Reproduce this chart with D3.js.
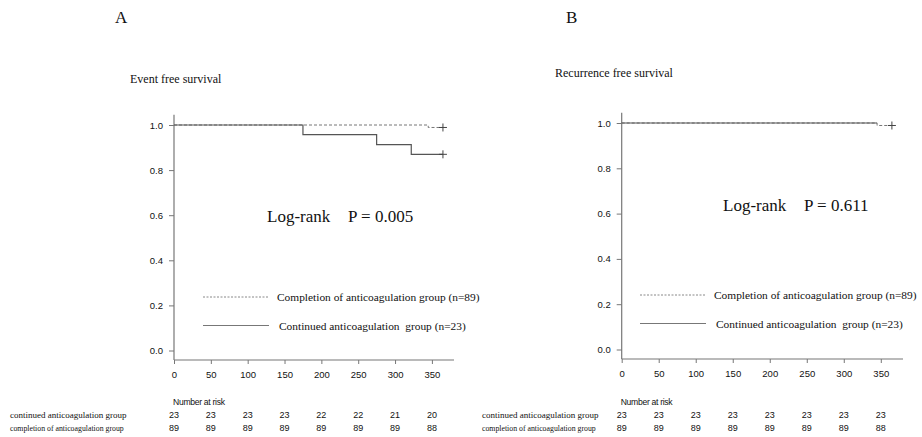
<!DOCTYPE html>
<meta charset="utf-8">
<style>
body { margin: 0; background: #fff; }
svg { display: block; }
text { white-space: pre; }
.serif { font-family: "Liberation Serif", "Times New Roman", serif; fill: #111; }
.sans { font-family: "Liberation Sans", Arial, sans-serif; fill: #111; }
</style>
<svg width="922" height="437"></svg>
<script src="https://d3js.org/d3.v7.min.js"></script>
<script>

// ---- data ----
var xTicks = [0, 50, 100, 150, 200, 250, 300, 350];
var yTicks = [0, 0.2, 0.4, 0.6, 0.8, 1.0];
var riskTimes = [0, 50, 100, 150, 200, 250, 300, 350];

// panel A : event free survival
var aContTimes = [0, 175, 275, 322];
var aContSurv  = [1.0, 0.957, 0.913, 0.870];
var aContEnd = 365;
var aCompTimes = [0, 345];
var aCompSurv  = [1.0, 0.989];
var aCompEnd = 365;
var aRiskCont = [23, 23, 23, 23, 22, 22, 21, 20];
var aRiskComp = [89, 89, 89, 89, 89, 89, 89, 88];

// panel B : recurrence free survival
var bContTimes = [0];
var bContSurv  = [1.0];
var bContEnd = 345;
var bCompTimes = [0, 345];
var bCompSurv  = [1.0, 0.989];
var bCompEnd = 365;
var bRiskCont = [23, 23, 23, 23, 23, 23, 23, 23];
var bRiskComp = [89, 89, 89, 89, 89, 89, 89, 88];

var svg = d3.select("svg");

// step path from km estimates
function stepPoints(times, surv, end) {
  var pts = [];
  times.forEach(function(t, i) {
    if (i > 0) pts.push([t, surv[i - 1]]);
    pts.push([t, surv[i]]);
  });
  pts.push([end, surv[surv.length - 1]]);
  return pts;
}

function drawPanel(p) {
  var g = svg.append("g");
  var x = d3.scaleLinear().domain([0, 380]).range([p.x0, p.x380]);
  var y = d3.scaleLinear().domain([0, 1]).range([p.y0, p.y1]);
  var axisY = p.axisY;

  // axis lines
  g.append("line")
    .attr("x1", x(0)).attr("x2", x(380))
    .attr("y1", axisY).attr("y2", axisY)
    .attr("stroke", "#777").attr("stroke-width", 1.2);
  g.append("line")
    .attr("x1", x(0)).attr("x2", x(0))
    .attr("y1", y(1.045)).attr("y2", axisY)
    .attr("stroke", "#777").attr("stroke-width", 1.2);

  // y ticks
  var ya = g.append("g")
    .attr("transform", "translate(" + x(0) + ",0)")
    .call(d3.axisLeft(y).tickValues(yTicks).tickSize(5).tickPadding(6).tickFormat(d3.format(".1f")));
  ya.select(".domain").remove();
  ya.selectAll("line").attr("stroke", "#777");
  ya.selectAll("text").attr("class", "sans").style("font-size", "9.5px").attr("fill", "#222");

  // x ticks
  var xa = g.append("g")
    .attr("transform", "translate(0," + axisY + ")")
    .call(d3.axisBottom(x).tickValues(xTicks).tickSize(4).tickPadding(7));
  xa.select(".domain").remove();
  xa.selectAll("line").attr("stroke", "#777");
  xa.selectAll("text").attr("class", "sans").style("font-size", "9.5px").attr("fill", "#222");

  var line = d3.line().x(function(d) { return x(d[0]); }).y(function(d) { return y(d[1]); });

  // completion group (dashed)
  g.append("path")
    .attr("d", line(stepPoints(p.compTimes, p.compSurv, p.compEnd)))
    .attr("fill", "none").attr("stroke", "#777").attr("stroke-width", 1)
    .attr("stroke-dasharray", "3,2");
  // continued group (solid)
  g.append("path")
    .attr("d", line(stepPoints(p.contTimes, p.contSurv, p.contEnd)))
    .attr("fill", "none").attr("stroke", "#555").attr("stroke-width", 1.2);

  // censor marks
  var censors = [[p.compEnd, p.compSurv[p.compSurv.length - 1]]];
  if (p.contCensor) censors.push([p.contEnd, p.contSurv[p.contSurv.length - 1]]);
  censors.forEach(function(c) {
    var cx = x(c[0]), cy = y(c[1]);
    g.append("line").attr("x1", cx - 4).attr("x2", cx + 4).attr("y1", cy).attr("y2", cy)
      .attr("stroke", "#444").attr("stroke-width", 1);
    g.append("line").attr("x1", cx).attr("x2", cx).attr("y1", cy - 4).attr("y2", cy + 4)
      .attr("stroke", "#444").attr("stroke-width", 1);
  });

  // titles
  g.append("text").attr("class", "serif").attr("x", p.letterX).attr("y", 23)
    .style("font-size", "17px").text(p.letter);
  g.append("text").attr("class", "serif").attr("x", p.titleX).attr("y", p.titleY)
    .style("font-size", "12px").text(p.title);

  // log-rank
  g.append("text").attr("class", "serif").attr("x", p.lrX).attr("y", p.lrY)
    .style("font-size", "17px").text("Log-rank");
  g.append("text").attr("class", "serif").attr("x", p.lrX + 81).attr("y", p.lrY)
    .style("font-size", "17px").text("P = " + p.pval);

  // legend
  g.append("line").attr("x1", p.legX).attr("x2", p.legX + 66)
    .attr("y1", p.legY).attr("y2", p.legY)
    .attr("stroke", "#888").attr("stroke-dasharray", "2,1.5");
  g.append("text").attr("class", "serif").attr("x", p.legX + 74).attr("y", p.legY + 4)
    .style("font-size", "11.4px").text("Completion of anticoagulation group (n=89)");
  g.append("line").attr("x1", p.legX).attr("x2", p.legX + 66)
    .attr("y1", p.legY + 28.5).attr("y2", p.legY + 28.5)
    .attr("stroke", "#777").attr("stroke-width", 1.2);
  g.append("text").attr("class", "serif").attr("x", p.legX + 76).attr("y", p.legY + 33)
    .style("font-size", "11.4px").text("Continued anticoagulation  group (n=23)");

  // number at risk
  g.append("text").attr("class", "sans").attr("x", x(0) - 1).attr("y", 405)
    .style("font-size", "8.6px").style("letter-spacing", "-0.3px").text("Number at risk");
  g.append("text").attr("class", "serif").attr("x", p.rowX).attr("y", 418)
    .style("font-size", "9px").text("continued anticoagulation group");
  g.append("text").attr("class", "serif").attr("x", p.rowX).attr("y", 431)
    .style("font-size", "7.8px").text("completion of anticoagulation group");

  g.selectAll(".rc").data(p.riskCont).enter().append("text")
    .attr("class", "sans").attr("text-anchor", "middle")
    .attr("x", function(d, i) { return x(riskTimes[i]); }).attr("y", 418)
    .style("font-size", "9px").text(function(d) { return d; });
  g.selectAll(".rp").data(p.riskComp).enter().append("text")
    .attr("class", "sans").attr("text-anchor", "middle")
    .attr("x", function(d, i) { return x(riskTimes[i]); }).attr("y", 431)
    .style("font-size", "9px").text(function(d) { return d; });
}

drawPanel({
  x0: 174, x380: 454, y0: 350.5, y1: 125, axisY: 360,
  contTimes: aContTimes, contSurv: aContSurv, contEnd: aContEnd, contCensor: true,
  compTimes: aCompTimes, compSurv: aCompSurv, compEnd: aCompEnd,
  riskCont: aRiskCont, riskComp: aRiskComp,
  letter: "A", letterX: 115, title: "Event free survival", titleX: 130, titleY: 83,
  lrX: 267, lrY: 222, pval: "0.005",
  legX: 203, legY: 297, rowX: 10
});

drawPanel({
  x0: 621.7, x380: 903, y0: 349.5, y1: 123, axisY: 359,
  contTimes: bContTimes, contSurv: bContSurv, contEnd: bContEnd, contCensor: false,
  compTimes: bCompTimes, compSurv: bCompSurv, compEnd: bCompEnd,
  riskCont: bRiskCont, riskComp: bRiskComp,
  letter: "B", letterX: 566, title: "Recurrence free survival", titleX: 555, titleY: 77,
  lrX: 723, lrY: 211, pval: "0.611",
  legX: 640, legY: 295, rowX: 482
});

</script>
